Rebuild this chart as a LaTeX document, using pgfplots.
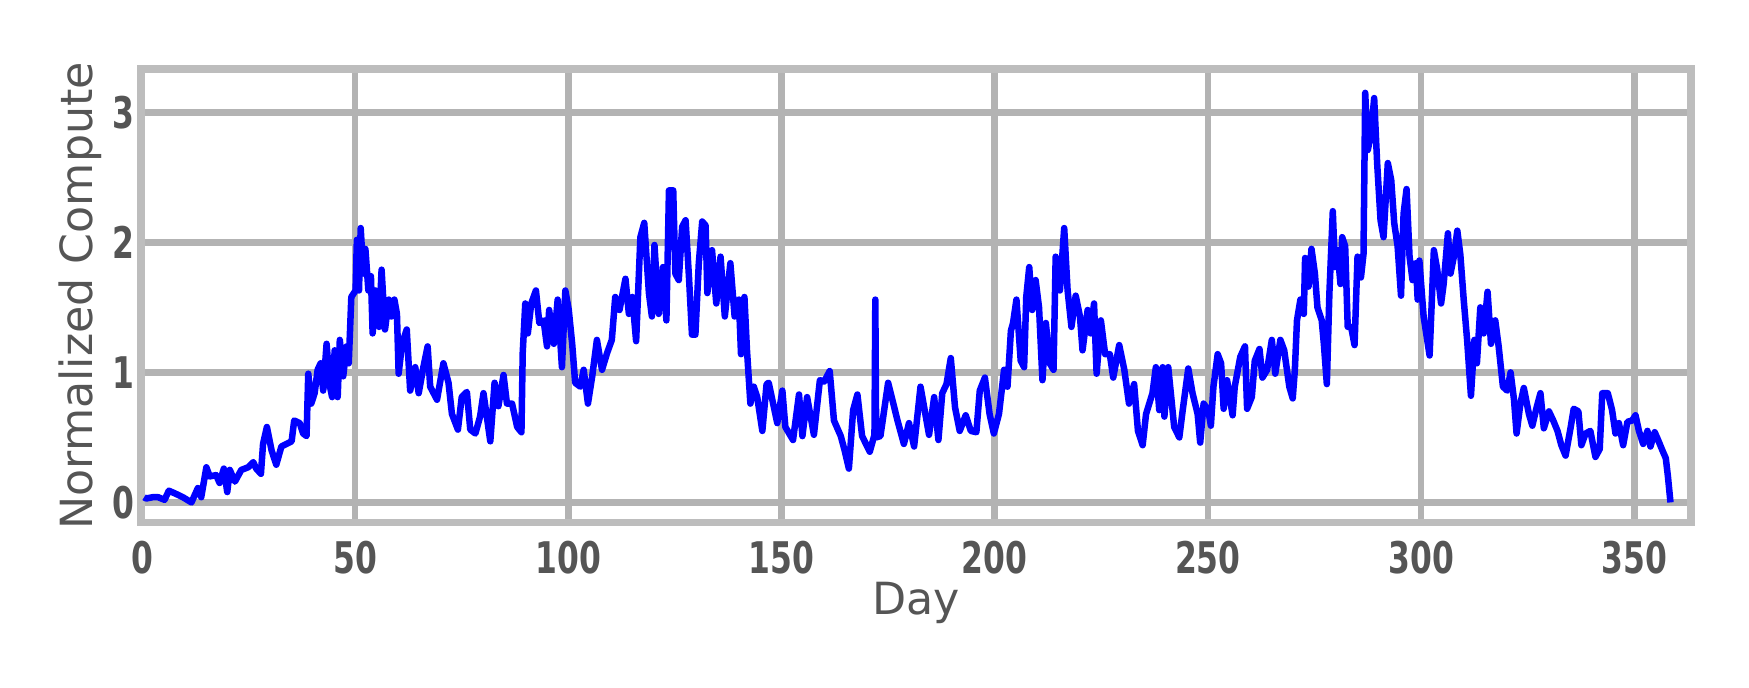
\documentclass[border=0pt]{standalone}
\usepackage{fontspec}
\setmainfont{DejaVu Sans}
\newfontfamily\tickfont[FakeStretch=0.72]{DejaVu Sans}
\usepackage{pgfplots}
\pgfplotsset{compat=1.18}
\definecolor{gridgray}{HTML}{B3B3B3}
\definecolor{framegray}{HTML}{BDBDBD}
\definecolor{textgray}{HTML}{555555}

\begin{document}
\begin{tikzpicture}
\begin{axis}[
  scale only axis, width=154.85mm, height=45.3mm,
  xmin=-0.2, xmax=363.3, ymin=-0.154, ymax=3.333,
  xtick={0,50,...,350}, ytick={0,1,2,3},
  grid=major, major grid style={gridgray, line width=0.65mm},
  axis line style={framegray, line width=0.75mm},
  major tick length=0pt,
  /pgf/number format/assume math mode=true,
  tick label style={font=\tickfont\bfseries\fontsize{12.4}{14}\selectfont, text=textgray},
  xticklabel style={yshift=-0.6mm},
  yticklabel style={xshift=0.6mm},
  label style={font=\fontsize{12.6}{15}\selectfont, text=textgray},
  xlabel={Day}, ylabel={Normalized Compute},
  xlabel style={at={(axis description cs:0.5,0)}, anchor=north, yshift=-4.72mm},
  ylabel style={at={(axis description cs:0,0.5)}, anchor=center, yshift=6.1mm},
]
\addplot[blue, line width=0.65mm, line join=round, mark=none] coordinates {
(0.5,0.04) (1.0,0.03) (2.5,0.04) (3.8,0.04) (5.3,0.02) (6.3,0.09) (7.7,0.07) (9.6,0.04)
(11.6,0.0) (13.1,0.11) (13.9,0.04) (15.1,0.27) (15.9,0.2) (17.4,0.21) (18.2,0.15) (19.2,0.26)
(20.0,0.08) (20.6,0.25) (21.8,0.16) (23.3,0.25) (24.9,0.27) (26.1,0.31) (26.8,0.26) (27.9,0.22)
(28.4,0.45) (29.3,0.58) (30.4,0.40) (31.5,0.29) (32.7,0.43) (33.9,0.45) (35.1,0.47) (35.7,0.63)
(37.0,0.61) (37.8,0.53) (38.6,0.51) (39.0,0.99) (39.7,0.76) (40.5,0.84) (41.2,1.02) (41.9,1.07)
(42.5,0.86) (43.3,1.22) (44.1,0.89) (44.6,0.81) (45.2,1.17) (45.9,0.81) (46.4,1.25) (47.2,0.97)
(48.0,1.20) (48.5,1.07) (49.1,1.58) (50.1,1.63) (50.4,2.02) (50.9,1.63) (51.3,2.11) (51.9,1.76)
(52.4,1.95) (53.1,1.63) (53.7,1.74) (54.1,1.30) (54.8,1.63) (55.6,1.35) (56.2,1.79) (57.0,1.33)
(57.9,1.56) (58.5,1.43) (59.2,1.56) (59.8,1.45)
(60.2,0.99) (61.0,1.22) (62.1,1.33) (62.9,0.86) (64.1,1.04) (64.9,0.84) (66.0,1.04) (67.0,1.20)
(67.6,0.89) (69.2,0.79) (70.7,1.07) (71.9,0.92) (72.7,0.68) (74.1,0.56) (75.0,0.81) (76.2,0.85)
(77.0,0.56) (78.2,0.53) (79.3,0.66) (80.1,0.84) (81.7,0.47) (82.7,0.92) (83.6,0.74) (84.8,0.98)
(85.6,0.76) (86.8,0.76) (88.0,0.58) (89.0,0.54) (89.3,1.15) (89.9,1.53) (90.5,1.30) (91.3,1.53)
(92.4,1.63) (93.2,1.38) (94.2,1.40) (95.0,1.20) (95.5,1.48) (96.6,1.22) (97.5,1.56) (98.5,1.04)
(99.3,1.63) (100.1,1.48) (100.9,1.22) (101.6,0.92) (102.8,0.89) (103.6,1.02) (104.6,0.76) (105.6,0.97)
(106.7,1.25) (107.9,1.02) (109.1,1.15) (110.2,1.25) (111.0,1.58) (112.0,1.48) (113.4,1.72) (114.2,1.45)
(115.0,1.58) (115.9,1.24)
(116.9,2.04) (117.8,2.15) (118.9,1.61) (119.6,1.43) (120.2,1.98) (121.2,1.45) (122.2,1.81) (123.0,1.40)
(123.6,2.40) (124.6,2.40) (125.1,1.76) (125.9,1.71) (126.7,2.12) (127.5,2.17) (128.3,1.73) (129.0,1.29)
(129.8,1.29) (130.6,1.84) (131.4,2.16) (132.2,2.13) (132.6,1.61) (133.7,1.94) (134.7,1.53) (135.7,1.89)
(136.7,1.43) (138.0,1.84) (139.0,1.43) (140.0,1.56) (140.5,1.14) (141.3,1.58) (141.9,1.17)
(142.7,0.76) (143.5,0.89) (144.3,0.81) (145.5,0.55) (146.5,0.91) (147.0,0.92) (149.0,0.61) (150.2,0.86)
(150.9,0.58) (152.7,0.48) (154.1,0.83) (154.9,0.51) (156.0,0.81) (157.6,0.52) (159.0,0.94) (160.0,0.93)
(161.3,1.01) (162.3,0.63) (163.9,0.51) (164.8,0.40) (165.8,0.26) (166.8,0.71) (167.8,0.83) (168.9,0.51)
(170.7,0.39) (171.8,0.52) (172.0,1.56) (172.2,0.50) (173.2,0.51) (175.0,0.92) (176.0,0.79) (177.2,0.63)
(178.7,0.45) (179.9,0.61)
(181.1,0.43) (182.6,0.89) (184.6,0.52) (185.8,0.81) (186.8,0.48) (187.7,0.84) (188.7,0.91) (189.7,1.11)
(190.7,0.73) (191.8,0.55) (193.2,0.67) (194.4,0.55) (195.7,0.54) (196.5,0.86) (197.7,0.96) (198.8,0.68)
(199.8,0.53) (201.0,0.68) (202.2,1.02) (203.0,0.89) (203.8,1.32) (204.3,1.38) (205.1,1.56) (206.1,1.09)
(206.9,1.04) (207.4,1.58) (208.1,1.81) (208.8,1.48) (209.6,1.71) (210.4,1.50) (211.2,0.94) (212.0,1.38)
(212.9,1.07) (213.8,1.02) (214.3,1.89) (215.3,1.63) (216.3,2.11) (217.1,1.63) (218.0,1.35) (219.0,1.59)
(220.0,1.43) (220.6,1.17) (221.8,1.48) (222.5,1.30) (223.3,1.53) (223.9,0.99) (224.9,1.40) (225.9,1.14)
(227.0,1.14) (227.8,0.96) (229.2,1.21) (230.4,1.02) (231.5,0.76) (232.7,0.91) (233.6,0.55) (234.7,0.44)
(235.5,0.68) (237.0,0.84) (237.8,1.04) (238.6,0.71) (239.4,1.04) (239.8,0.66)
(240.7,1.04) (242.1,0.58) (243.3,0.50) (244.1,0.71) (245.4,1.03) (246.4,0.84) (247.6,0.68) (248.2,0.46)
(249.0,0.76) (250.1,0.71) (250.7,0.59) (251.3,0.89) (252.3,1.14) (253.1,1.07) (253.7,0.72) (254.5,0.94)
(255.8,0.67) (256.3,0.89) (257.6,1.12) (258.7,1.20) (259.2,0.72) (260.3,0.81) (261.0,1.09) (262.1,1.18)
(262.8,0.96) (263.9,1.02) (265.0,1.25) (265.8,0.99) (267.0,1.25) (267.9,1.17) (269.1,0.89) (269.9,0.80)
(270.4,1.02) (270.9,1.40) (271.7,1.56) (272.5,1.45) (272.8,1.88) (273.6,1.66) (274.3,1.95) (275.1,1.76)
(275.7,1.50) (276.7,1.40) (277.2,1.22) (277.9,0.91) (278.5,1.61) (279.3,2.24) (279.8,1.81) (280.4,1.94)
(281.1,1.68) (281.5,2.04) (282.2,1.97) (282.8,1.35) (283.6,1.35) (284.4,1.21) (285.1,1.89) (285.9,1.73)
(286.5,1.91) (286.9,3.15) (287.5,2.71) (288.3,2.84) (289.0,3.11) (289.7,2.61) (290.5,2.17) (291.2,2.04)
(292.2,2.61) (293.0,2.48) (293.7,2.15) (294.5,1.97) (295.3,1.59) (295.9,2.22) (296.6,2.41) (297.3,1.89)
(298.0,1.71) (298.8,1.84) (299.2,1.56) (299.6,1.86) (300.2,1.60) (300.6,1.43)
(302.0,1.13) (303.0,1.94) (303.8,1.79) (304.7,1.53) (305.3,1.68) (306.3,2.07) (306.9,1.76) (307.7,1.89)
(308.5,2.09) (309.2,1.91) (310.0,1.56) (310.8,1.25) (311.7,0.82) (312.5,1.25) (313.1,1.07) (313.9,1.50)
(314.7,1.30) (315.6,1.62) (316.4,1.22) (317.4,1.40) (318.2,1.20) (319.2,0.89) (320.2,0.86) (321.0,1.00)
(321.8,0.79) (322.4,0.53) (323.3,0.76) (324.1,0.88) (325.3,0.68) (326.1,0.59) (327.1,0.73) (328.0,0.84)
(328.8,0.57) (330.0,0.70) (331.0,0.63) (332.0,0.55) (332.9,0.44) (333.9,0.36) (335.1,0.58) (335.8,0.72)
(336.9,0.70) (337.6,0.44) (338.6,0.53) (339.7,0.55) (340.9,0.35) (341.9,0.41) (342.5,0.84) (343.8,0.84)
(344.8,0.71) (345.6,0.53) (346.4,0.61) (347.4,0.44) (348.4,0.62) (349.5,0.63) (350.3,0.67) (351.1,0.55)
(352.1,0.45) (353.1,0.55) (353.8,0.43) (354.8,0.54) (355.6,0.48) (356.6,0.40) (357.4,0.34) (357.9,0.20)
(358.5,0.00)
};
\end{axis}
\path[use as bounding box] ([xshift=-14.1mm,yshift=-16.5mm]current axis.south west) rectangle ([xshift=5.8mm,yshift=6.9mm]current axis.north east);
\end{tikzpicture}
\end{document}
